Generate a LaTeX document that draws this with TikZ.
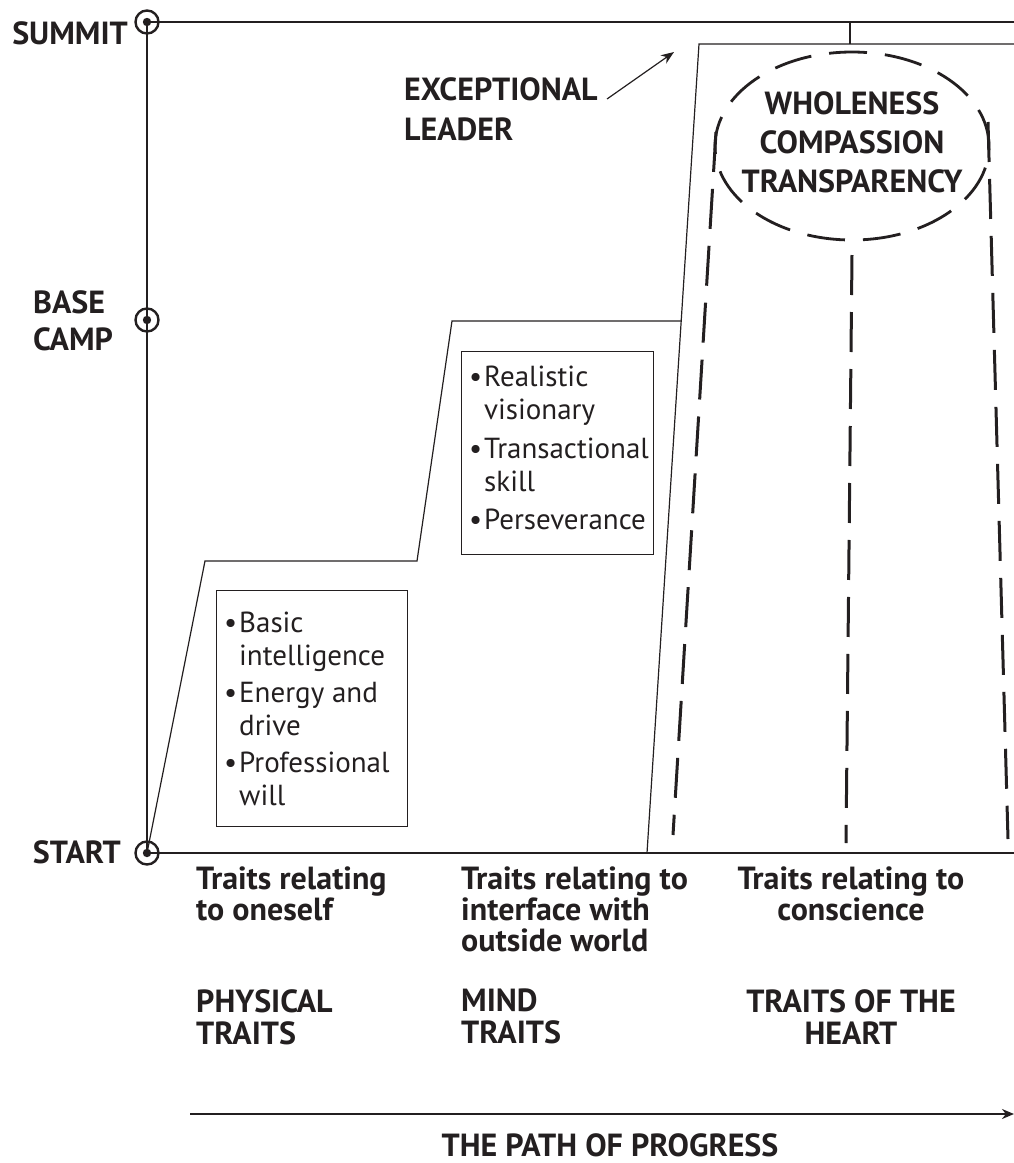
\documentclass[tikz,border=0pt]{standalone}
\usepackage{fontspec}
\setmainfont{PT Sans}
\usetikzlibrary{arrows.meta,shapes.geometric}
\definecolor{ink}{HTML}{231F20}
\newcommand{\bitem}[1]{\makebox[15pt][l]{\textbullet}#1}
\newcommand{\bcont}[1]{\hspace*{15pt}#1}
\begin{document}
\begin{tikzpicture}[x=1pt,y=-1pt,
  lbl/.style={font=\fontsize{32}{#1}\selectfont\bfseries, inner sep=0pt, text=ink},
  lbl/.default=31,
  thinline/.style={line width=1.2pt, draw=ink},
  axisline/.style={line width=2pt, draw=ink},
  marker/.style={circle, draw=ink, line width=2.4pt, minimum size=23pt, inner sep=0pt},
  legs/.style={line width=3pt, draw=ink, dash pattern=on 40pt off 17pt},
  boxstyle/.style={draw=ink, line width=1.3pt, inner sep=0pt, anchor=north west},
  items/.style={font=\fontsize{29}{33}\selectfont, align=left, inner sep=0pt, anchor=north west, text=ink}
]
\useasboundingbox (0,0) rectangle (1014,1163);

% markers
\node[marker] (summit) at (147,22) {};
\node[marker] (base) at (147,320) {};
\node[marker] (start) at (147,853) {};
\foreach \m in {summit,base,start} \fill[ink] (\m.center) circle (4.2pt);

% axes
\coordinate (sumR) at (1014,22);
\coordinate (startR) at (1014,853);
\draw[axisline] (summit.center) -- (start.center);
\draw[axisline] (summit.center) -- (sumR);
\draw[axisline] (start.center) -- (startR);

% steps
\coordinate (s1) at (205,561);
\coordinate (s2) at (417,561);
\coordinate (s3) at (452,321);
\coordinate (s4) at (681,321);
\coordinate (h0) at (647,853);
\coordinate (h1) at (699,44);
\coordinate (h2) at (1014,44);
\coordinate (t0) at (850,22);
\coordinate (t1) at (850,44);
\draw[thinline] (start.center) -- (s1) -- (s2) -- (s3) -- (s4);
\draw[thinline] (h0) -- (h1) -- (h2);
\draw[thinline] (t0) -- (t1);

% boxes
\node[boxstyle, minimum width=191pt, minimum height=236pt] (box1) at (216,590) {};
\node[boxstyle, minimum width=192pt, minimum height=203pt] (box2) at (461,351) {};
\node[items] (items1) at (224,612) {\bitem{Basic}\\\bcont{intelligence}\\[4pt]\bitem{Energy and}\\\bcont{drive}\\[4pt]\bitem{Professional}\\\bcont{will}};
\node[items] (items2) at (469,366) {\bitem{Realistic}\\\bcont{visionary}\\[6pt]\bitem{Transactional}\\\bcont{skill}\\[5pt]\bitem{Perseverance}};

% heart ellipse
\node[ellipse, draw=ink, line width=2.8pt, dash pattern=on 38pt off 18pt, minimum width=274pt, minimum height=188pt, inner sep=0pt] (heart) at (852,146) {};
\node[lbl=39, align=center] (heartText) at (852,142) {WHOLENESS\\COMPASSION\\TRANSPARENCY};

% legs
\coordinate (l1a) at (716,132); \coordinate (l1b) at (673,835);
\coordinate (l2a) at (852,255); \coordinate (l2b) at (846,843);
\coordinate (l3a) at (988,122); \coordinate (l3b) at (1008,839);
\draw[legs] (l1a) -- (l1b);
\draw[legs] (l2a) -- (l2b);
\draw[legs] (l3a) -- (l3b);

% left labels
\node[lbl, anchor=base east] (lsummit) at (128,44) {SUMMIT};
\node[lbl=37, anchor=north west, align=left] (lbase) at (33,290) {BASE\\CAMP};
\node[lbl, anchor=base east] (lstart) at (121,863) {START};

% exceptional leader
\node[lbl=40, anchor=north west, align=left] (excl) at (404,77) {EXCEPTIONAL\\LEADER};
\coordinate (exA) at (607,99);
\coordinate (exB) at (674,52);
\draw[line width=1.2pt, draw=ink, -{Stealth[length=13pt,width=10pt]}] (exA) -- (exB);

% bottom labels
\node[lbl, anchor=north west, align=left] (c1) at (196,867) {Traits relating\\to oneself};
\node[lbl, anchor=north west, align=left] (c2) at (461,867) {Traits relating to\\interface with\\outside world};
\node[lbl, anchor=north, align=center] (c3) at (851,867) {Traits relating to\\conscience};
\node[lbl=32, anchor=north west, align=left] (d1) at (196,989) {PHYSICAL\\TRAITS};
\node[lbl=32, anchor=north west, align=left] (d2) at (461,989) {MIND\\TRAITS};
\node[lbl=32, anchor=north, align=center] (d3) at (851,989) {TRAITS OF THE\\HEART};

% path of progress
\coordinate (pA) at (190,1114);
\coordinate (pB) at (1014,1114);
\draw[line width=2pt, draw=ink, -{Stealth[length=12pt,width=10pt]}] (pA) -- (pB);
\node[lbl, anchor=north] (path) at (610,1133) {THE PATH OF PROGRESS};
\end{tikzpicture}
\end{document}
